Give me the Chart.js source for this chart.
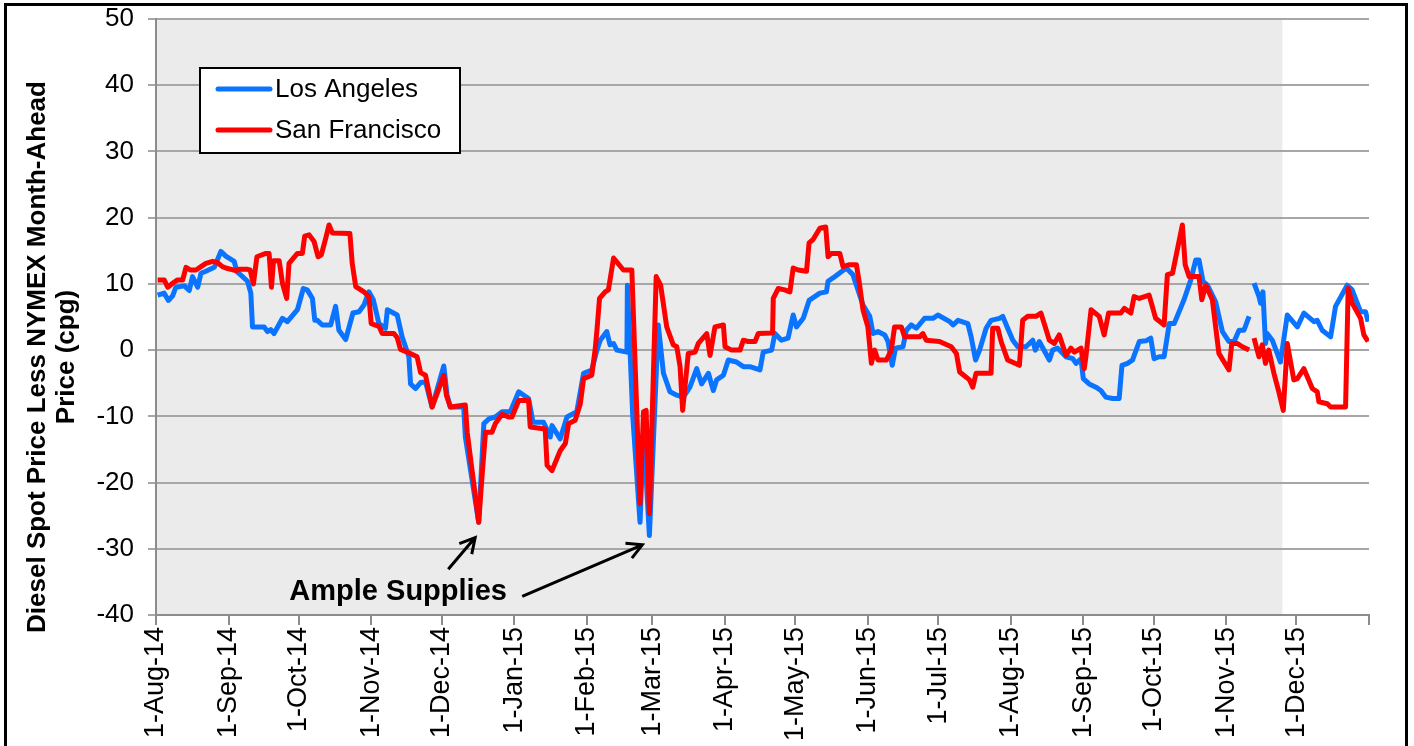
<!DOCTYPE html>
<html>
<head>
<meta charset="utf-8">
<script src="https://cdn.jsdelivr.net/npm/chart.js@4.4.1/dist/chart.umd.min.js"></script>
<style>
    html, body { margin: 0; padding: 0; background: #fff; }
    #wrap { width: 1414px; height: 746px; }
</style>
</head>
<body>
<div id="wrap"><canvas id="chart" width="1414" height="746"></canvas></div>
<script>
// Дизель: спот LA / SF мінус NYMEX (центів за галон), x = днів від 1-Aug-14

const xTickDays = [0, 31, 61, 92, 122, 153, 184, 212, 243, 273, 304, 334, 365, 396, 426, 457, 487, 518];
const xTickLabels = ['1-Aug-14', '1-Sep-14', '1-Oct-14', '1-Nov-14', '1-Dec-14', '1-Jan-15', '1-Feb-15', '1-Mar-15',
    '1-Apr-15', '1-May-15', '1-Jun-15', '1-Jul-15', '1-Aug-15', '1-Sep-15', '1-Oct-15', '1-Nov-15', '1-Dec-15', ''];

const seriesNames = ['Los Angeles', 'San Francisco'];
const seriesColors = ['#0a73ff', '#ff0000'];
const yTitleLines = ['Diesel Spot Price Less NYMEX Month-Ahead', 'Price (cpg)'];
const noteText = 'Ample Supplies';
const shadeEndDay = 481;

// [день, cpg]
const laPoints = [
    [0.7, 8.3], [3.5, 8.6], [5.3, 7.5], [7.1, 8.2], [8.5, 9.5], [12.1, 9.7], [14.2, 9.0], [15.6, 11.1], [17.8, 9.5],
    [19.2, 11.6], [21.3, 11.9], [24.9, 12.5], [27.7, 14.9], [29.8, 14.2], [33.4, 13.4], [34.5, 11.9], [39.1, 10.4],
    [40.5, 8.6], [41.2, 3.5], [46.2, 3.5], [47.6, 2.8], [49.0, 3.1], [50.4, 2.5], [54.0, 4.8], [56.1, 4.3], [60.4, 6.1],
    [62.9, 9.3], [64.6, 9.1], [66.8, 7.8], [67.8, 4.5], [68.9, 4.5], [71.0, 3.8], [74.6, 3.8], [76.7, 6.6], [78.1, 3.0],
    [81.0, 1.6], [84.1, 5.6], [86.7, 5.8], [88.8, 6.8], [90.9, 8.8], [92.8, 7.6], [95.2, 4.0], [98.0, 3.3], [98.8, 6.1],
    [103.0, 5.3], [105.1, 2.0], [108.0, -1.0], [108.7, -5.1], [110.8, -5.8], [113.0, -4.9], [115.1, -4.8], [117.9, -8.6],
    [122.9, -2.4], [124.3, -6.8], [125.7, -8.6], [131.4, -8.6], [132.1, -13.1], [137.8, -26.0], [140.0, -11.1],
    [142.1, -10.4], [144.9, -10.1], [147.8, -9.3], [151.3, -9.3], [154.9, -6.3], [159.1, -7.3], [161.0, -10.9],
    [165.5, -10.9], [168.4, -13.1], [169.1, -11.4], [172.6, -13.4], [175.5, -10.1], [179.7, -9.3], [182.6, -3.5],
    [186.1, -3.0], [188.3, 0], [189.7, 1.5], [192.5, 2.8], [193.9, 0.8], [195.4, 1.0], [196.8, 0], [201.1, -0.3],
    [201.3, 9.8], [203.6, -10.0], [206.7, -26.0], [208.2, -12.0], [210.7, -28.0], [214.5, 3.8], [216.7, -3.5],
    [219.5, -6.3], [222.4, -6.8], [225.2, -7.1], [228.0, -5.6], [230.9, -2.8], [233.0, -5.1], [235.9, -3.5],
    [238.0, -6.1], [239.4, -4.5], [242.3, -3.8], [244.4, -1.5], [247.9, -1.8], [250.8, -2.5], [253.6, -2.5],
    [257.9, -3.0], [259.3, -0.3], [262.9, 0], [264.3, 2.5], [267.1, 1.5], [269.9, 1.8], [272.1, 5.3], [273.5, 3.5],
    [276.4, 4.8], [278.9, 7.5], [283.5, 8.6], [286.3, 8.8], [287.0, 10.4], [289.1, 10.9], [294.8, 12.4], [297.6, 11.4],
    [299.1, 9.8], [301.9, 6.8], [304.8, 5.1], [306.2, 2.5], [308.3, 2.8], [311.2, 2.3], [312.6, 1.3], [314.4, -2.3],
    [315.8, 0.3], [319.0, 0.5], [320.4, 3.0], [322.5, 3.8], [324.7, 3.3], [328.2, 4.8], [331.8, 4.8], [333.9, 5.3],
    [339.0, 4.3], [340.4, 3.8], [342.5, 4.5], [346.7, 4.0], [348.1, 2.0], [350.0, -1.5], [351.7, 0], [354.5, 3.3],
    [356.6, 4.5], [360.2, 4.8], [361.6, 5.1], [363.7, 3.3], [365.9, 1.5], [368.0, 0.5], [371.5, 0.5], [374.4, 1.5],
    [375.5, 0], [377.2, 1.3], [381.5, -1.5], [382.9, 0], [385.0, 0.3], [388.6, -1.0], [391.5, -1.3], [392.9, -2.0],
    [395.0, -1.3], [396.0, -4.3], [398.5, -5.1], [401.4, -5.6], [403.5, -6.1], [405.6, -7.1], [408.5, -7.3],
    [411.3, -7.3], [412.5, -2.3], [414.9, -2.0], [417.0, -1.5], [419.9, 1.3], [422.7, 1.4], [424.8, 1.8], [426.2, -1.3],
    [428.4, -1.0], [430.5, -1.0], [432.7, 4.0], [434.8, 4.0], [439.0, 7.6], [441.9, 10.6], [444.0, 13.6], [445.4, 13.6],
    [447.1, 10.4], [449.0, 9.8], [452.5, 7.3], [453.9, 5.1], [455.4, 2.8], [458.2, 1.3], [460.4, 1.3], [462.5, 3.0],
    [464.6, 3.0], [466.8, 5.1], [467.8, null], [468.9, 10.1], [471.0, 8.1], [471.7, 7.1], [472.7, 8.8], [473.8, 1.0],
    [474.5, 2.5], [476.7, 1.5], [480.2, -1.8], [483.1, 5.3], [487.4, 3.5], [490.2, 5.6], [494.5, 4.3], [495.9, 4.5],
    [498.0, 3.0], [501.6, 2.0], [503.7, 6.6], [508.7, 9.8], [510.8, 9.1], [514.4, 5.8], [516.5, 5.8], [517.6, 4.3]
];

const sfPoints = [
    [0.7, 10.6], [3.5, 10.6], [5.0, 9.5], [7.1, 10.1], [9.2, 10.6], [11.4, 10.6], [12.8, 12.5], [14.6, 12.1],
    [17.1, 12.1], [19.2, 12.6], [21.3, 13.1], [24.2, 13.4], [26.3, 13.2], [28.4, 12.6], [29.8, 12.4], [34.1, 12.0],
    [35.5, 12.2], [39.1, 12.2], [40.2, 12.1], [41.6, 10.0], [43.1, 14.1], [46.9, 14.6], [48.3, 14.6], [49.3, 9.5],
    [50.2, 13.5], [52.6, 13.5], [54.0, 10.1], [55.8, 7.8], [56.8, 13.1], [60.4, 14.6], [62.5, 14.6], [63.5, 17.2],
    [65.4, 17.4], [67.5, 16.4], [69.2, 14.1], [70.6, 14.4], [72.5, 16.9], [73.9, 18.9], [75.3, 17.7], [82.8, 17.6],
    [83.8, 13.1], [85.3, 9.6], [88.8, 8.8], [90.9, 8.1], [91.9, 4.0], [95.2, 3.6], [96.6, 2.5], [101.6, 2.5],
    [103.0, 1.9], [104.4, 0.1], [107.3, -0.3], [111.5, -1.0], [113.0, -3.4], [115.1, -3.8], [117.9, -8.6],
    [122.9, -3.8], [124.0, -6.8], [125.7, -8.6], [132.1, -8.3], [132.9, -12.4], [137.8, -26.0], [139.2, -19.2],
    [140.7, -12.4], [143.5, -12.4], [144.9, -11.1], [147.8, -9.7], [150.6, -10.1], [152.0, -10.1], [154.9, -7.6],
    [159.1, -7.6], [159.8, -11.6], [166.2, -11.9], [167.0, -17.4], [169.1, -18.2], [172.6, -15.2], [174.8, -14.1],
    [176.2, -11.1], [179.0, -10.6], [181.2, -8.1], [182.6, -4.3], [186.1, -3.8], [187.6, 0.3], [188.3, 3.0],
    [189.4, 7.8], [191.8, 8.8], [193.2, 9.1], [195.4, 13.9], [199.6, 12.1], [203.2, 12.1], [206.7, -23.2],
    [208.2, -9.3], [209.3, -9.1], [210.7, -24.7], [213.6, 11.1], [215.5, 9.8], [218.1, 3.5], [220.9, 0.8],
    [222.4, 0.5], [223.8, -2.5], [224.9, -9.1], [227.3, -0.5], [230.2, -0.3], [231.6, 1.0], [235.2, 2.5],
    [236.6, -0.8], [238.7, 3.5], [242.3, 3.8], [243.0, 0.5], [245.8, 0], [249.4, 0], [250.8, 1.5], [252.9, 1.3],
    [255.8, 1.3], [257.2, 2.5], [263.3, 2.6], [263.6, 7.8], [265.7, 9.3], [268.5, 9.1], [270.7, 8.8], [272.1, 12.4],
    [274.2, 12.1], [277.8, 11.9], [278.9, 16.2], [280.6, 16.7], [283.5, 18.4], [286.0, 18.6], [287.0, 14.1],
    [288.4, 14.6], [292.0, 14.6], [293.4, 12.6], [296.2, 12.9], [299.1, 12.9], [300.5, 9.8], [301.9, 6.1],
    [304.0, 3.5], [305.5, -2.0], [306.9, 0], [308.3, -1.5], [311.9, -1.5], [314.0, 0], [315.4, 3.5], [318.3, 3.5],
    [319.7, 2.0], [326.1, 2.0], [327.5, 2.5], [328.9, 1.5], [334.6, 1.3], [339.6, 0.5], [341.8, -0.5], [343.2, -3.3],
    [347.4, -4.5], [348.8, -5.6], [350.2, -3.5], [356.6, -3.5], [357.3, 3.3], [359.5, 3.3], [360.9, 1.3],
    [363.7, -1.5], [368.7, -2.3], [370.1, 4.5], [372.3, 5.1], [375.8, 5.1], [377.9, 5.6], [381.5, 1.5], [383.6, 1.0],
    [385.7, 2.3], [388.6, -0.8], [390.7, 0.3], [392.2, -0.3], [395.0, 0.3], [396.4, -2.8], [397.1, -1.0],
    [399.3, 6.1], [402.8, 5.1], [404.9, 2.3], [406.8, 5.6], [412.0, 5.6], [413.5, 6.3], [416.3, 5.6], [417.7, 8.1],
    [419.9, 7.8], [424.1, 8.3], [426.9, 4.8], [430.5, 3.8], [431.9, 11.4], [434.1, 11.6], [438.3, 18.9],
    [439.5, 12.9], [441.2, 11.1], [445.4, 11.1], [446.6, 7.6], [448.3, 9.8], [451.1, 7.6], [453.9, -0.5],
    [458.2, -3.0], [459.4, 1.0], [461.8, 1.0], [463.9, 0.5], [466.8, 0], [467.8, null], [468.9, 1.8], [471.0, -1.0],
    [472.4, 0.8], [473.8, -2.0], [475.2, 0], [477.4, -3.5], [479.5, -6.3], [481.4, -9.1], [483.1, 1.0], [485.9, -4.5],
    [487.4, -4.3], [490.2, -2.8], [493.8, -5.8], [495.9, -6.3], [496.6, -7.8], [500.2, -8.1], [501.6, -8.6],
    [508.0, -8.6], [509.1, 9.3], [510.8, 7.1], [514.4, 4.8], [515.8, 2.3], [517.6, 1.3]
];

// підпис і стрілки в координатах даних: [день, cpg]
const notePos = [103.4, -36.6];
const noteArrows = [
    [[124.8, -33.1], [136.3, -28.3]],
    [[156.4, -37.2], [207.7, -29.4]]
];

const FONT = "'Liberation Sans', Arial, sans-serif";

const toXY = pts => pts.map(([x, y]) => ({x, y}));

// Сірий фон до кінця листопада
const shadePlugin = {
    id: 'shade',
    beforeDraw(chart) {
        const {ctx, chartArea: a, scales: {x}} = chart;
        ctx.save();
        ctx.fillStyle = '#fff';
        ctx.fillRect(0, 0, chart.width, chart.height);
        ctx.fillStyle = '#ebebeb';
        const xe = x.getPixelForValue(shadeEndDay);
        ctx.fillRect(a.left, a.top, xe - a.left, a.bottom - a.top);
        ctx.restore();
    }
};

function drawArrow(ctx, x0, y0, x1, y1) {
    const ang = Math.atan2(y1 - y0, x1 - x0);
    const h = 17;
    ctx.beginPath();
    ctx.moveTo(x0, y0);
    ctx.lineTo(x1, y1);
    ctx.moveTo(x1 - h * Math.cos(ang - 0.5), y1 - h * Math.sin(ang - 0.5));
    ctx.lineTo(x1, y1);
    ctx.lineTo(x1 - h * Math.cos(ang + 0.5), y1 - h * Math.sin(ang + 0.5));
    ctx.stroke();
}

// Легенда, підпис, назва осі, рамка
const extrasPlugin = {
    id: 'extras',
    afterDraw(chart) {
        const {ctx, chartArea: a, scales: {x, y}} = chart;
        ctx.save();

        // легенда
        const bx = a.left + 44, by = a.top + 49, bw = 260, bh = 85;
        ctx.fillStyle = '#fff';
        ctx.fillRect(bx, by, bw, bh);
        ctx.strokeStyle = '#000';
        ctx.lineWidth = 2;
        ctx.strokeRect(bx, by, bw, bh);
        ctx.font = `26px ${FONT}`;
        ctx.textBaseline = 'middle';
        ctx.textAlign = 'left';
        chart.data.datasets.forEach((ds, i) => {
            const ly = by + 21 + i * 41;
            ctx.strokeStyle = ds.borderColor;
            ctx.lineWidth = 5;
            ctx.lineCap = 'round';
            ctx.beginPath();
            ctx.moveTo(bx + 18, ly);
            ctx.lineTo(bx + 70, ly);
            ctx.stroke();
            ctx.fillStyle = '#000';
            ctx.fillText(ds.label, bx + 75, ly + 1);
        });

        // Ample Supplies
        ctx.font = `bold 29px ${FONT}`;
        ctx.textAlign = 'center';
        ctx.fillStyle = '#000';
        ctx.fillText(noteText, x.getPixelForValue(notePos[0]), y.getPixelForValue(notePos[1]));
        ctx.strokeStyle = '#000';
        ctx.lineWidth = 3;
        ctx.lineCap = 'butt';
        noteArrows.forEach(([p0, p1]) => {
            drawArrow(ctx, x.getPixelForValue(p0[0]), y.getPixelForValue(p0[1]),
                x.getPixelForValue(p1[0]), y.getPixelForValue(p1[1]));
        });

        // назва осі Y
        ctx.font = `bold 26px ${FONT}`;
        yTitleLines.forEach((t, i) => {
            ctx.save();
            ctx.translate(38 + i * 29, 357);
            ctx.rotate(-Math.PI / 2);
            ctx.fillText(t, 0, 0);
            ctx.restore();
        });

        // рамка
        ctx.lineWidth = 3;
        ctx.strokeRect(5.5, 4.5, 1401, 800);
        ctx.restore();
    }
};

new Chart(document.getElementById('chart'), {
    type: 'line',
    data: {
        datasets: [
            {
                label: seriesNames[0],
                data: toXY(laPoints),
                borderColor: seriesColors[0],
                borderWidth: 5,
                pointRadius: 0,
                tension: 0,
                order: 1,
            },
            {
                label: seriesNames[1],
                data: toXY(sfPoints),
                borderColor: seriesColors[1],
                borderWidth: 5,
                pointRadius: 0,
                tension: 0,
                order: 0,
            }
        ]
    },
    options: {
        responsive: false,
        animation: false,
        spanGaps: false,
        borderJoinStyle: 'round',
        layout: {padding: {top: 19, right: 45, left: 0, bottom: 0}},
        plugins: {legend: {display: false}, tooltip: {enabled: false}},
        scales: {
            x: {
                type: 'linear',
                min: 0,
                max: 518,
                afterBuildTicks: s => { s.ticks = xTickDays.map(v => ({value: v})); },
                afterFit: s => { s.height = 131; s.paddingLeft = 0; s.paddingRight = 0; },
                grid: {drawOnChartArea: false, color: '#8c8c8c', lineWidth: 2, tickLength: 10},
                border: {color: '#8c8c8c', width: 2},
                ticks: {
                    autoSkip: false,
                    maxRotation: 90,
                    minRotation: 90,
                    padding: 2,
                    color: '#000',
                    font: {family: FONT, size: 27},
                    callback: (v, i) => xTickLabels[i]
                }
            },
            y: {
                min: -40,
                max: 50,
                afterFit: s => { s.width = 156; s.paddingTop = 0; s.paddingBottom = 0; },
                grid: {color: '#a6a6a6', lineWidth: 2, tickLength: 8},
                border: {color: '#8c8c8c', width: 2},
                ticks: {stepSize: 10, padding: 14, color: '#000', font: {family: FONT, size: 26}}
            }
        }
    },
    plugins: [shadePlugin, extrasPlugin]
});
</script>
</body>
</html>
